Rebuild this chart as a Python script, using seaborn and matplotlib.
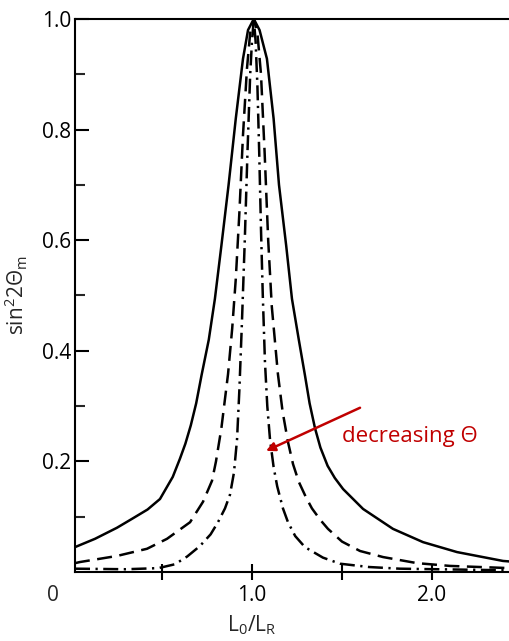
import matplotlib
matplotlib.use("Agg")
import matplotlib.pyplot as plt
import seaborn as sns
import pandas as pd

# ---- data ----
solid_x = [0.017, 0.128, 0.25, 0.333, 0.42, 0.489, 0.56, 0.60, 0.63, 0.66, 0.69, 0.72, 0.76, 0.794,
           0.83, 0.87, 0.91, 0.95, 0.978, 1.01, 1.042, 1.083, 1.12, 1.15, 1.19, 1.222, 1.26, 1.294,
           1.32, 1.35, 1.38, 1.42, 1.46, 1.506, 1.617, 1.783, 1.95, 2.139, 2.394, 2.433]
solid_y = [0.045, 0.060, 0.080, 0.096, 0.113, 0.132, 0.172, 0.205, 0.232, 0.265, 0.305, 0.356, 0.420,
           0.494, 0.590, 0.700, 0.820, 0.928, 0.980, 1.0, 0.980, 0.928, 0.820, 0.700, 0.590, 0.494,
           0.420, 0.356, 0.305, 0.260, 0.225, 0.192, 0.170, 0.150, 0.114, 0.078, 0.054, 0.036, 0.020,
           0.019]

dashed_x = [0.017, 0.044, 0.25, 0.417, 0.528, 0.656, 0.728, 0.778, 0.80, 0.83, 0.867, 0.89, 0.91,
            0.93, 0.95, 0.972, 0.99, 1.01, 1.03, 1.05, 1.07, 1.09, 1.11, 1.144, 1.17, 1.20, 1.228,
            1.26, 1.30, 1.333, 1.38, 1.422, 1.50, 1.60, 1.728, 1.917, 2.10, 2.433]
dashed_y = [0.016, 0.018, 0.029, 0.042, 0.060, 0.090, 0.127, 0.165, 0.200, 0.260, 0.358, 0.440, 0.530,
            0.650, 0.790, 0.910, 0.975, 1.0, 0.975, 0.900, 0.760, 0.600, 0.480, 0.358, 0.290, 0.235,
            0.195, 0.163, 0.135, 0.115, 0.094, 0.078, 0.055, 0.038, 0.027, 0.016, 0.011, 0.007]

dashdot_x = [0.017, 0.30, 0.48, 0.572, 0.64, 0.711, 0.77, 0.811, 0.85, 0.878, 0.90, 0.917, 0.93,
             0.944, 0.96, 0.975, 0.99, 1.0, 1.01, 1.02, 1.03, 1.04, 1.05, 1.06, 1.072, 1.085, 1.10,
             1.12, 1.14, 1.172, 1.20, 1.24, 1.294, 1.394, 1.489, 1.65, 1.82, 2.433]
dashdot_y = [0.006, 0.005, 0.007, 0.014, 0.028, 0.047, 0.068, 0.090, 0.115, 0.140, 0.180, 0.240, 0.330,
             0.450, 0.600, 0.760, 0.900, 0.960, 1.0, 0.960, 0.880, 0.760, 0.620, 0.500, 0.380, 0.300,
             0.240, 0.190, 0.155, 0.115, 0.090, 0.065, 0.045, 0.026, 0.015, 0.009, 0.006, 0.003]

x_ticks = [0.5, 1.0, 1.5, 2.0]
x_ticklabels = ["", "1.0", "", "2.0"]
y_ticks = [0.2, 0.4, 0.6, 0.8, 1.0]
y_ticklabels = ["0.2", "0.4", "0.6", "0.8", "1.0"]
y_minor = [0.1, 0.3, 0.5, 0.7, 0.9]

sns.set_style("ticks")
plt.rcParams["font.family"] = ["Open Sans", "DejaVu Sans"]
plt.rcParams["mathtext.default"] = "regular"

W, H = 510, 641
fig = plt.figure(figsize=(W / 100, H / 100), dpi=100)
ax = fig.add_axes([75 / W, 1 - 572 / H, (W - 75) / W, (572 - 19) / H])

red = "#C00000"
lw = 1.8
for xs, ys, ls in [(solid_x, solid_y, "-"),
                   (dashed_x, dashed_y, (0, (6, 3))),
                   (dashdot_x, dashdot_y, (0, (6, 2.2, 0.9, 2.2)))]:
    df = pd.DataFrame({"x": xs, "y": ys})
    sns.lineplot(data=df, x="x", y="y", sort=False, color="black", lw=lw,
                 linestyle=ls, ax=ax, zorder=3)

ax.set_xlim(0.017, 2.433)
ax.set_ylim(0, 1.0)

for s in ["left", "bottom", "top"]:
    ax.spines[s].set_linewidth(1.5)
    ax.spines[s].set_color("black")
ax.spines["right"].set_visible(False)

ax.set_xticks(x_ticks)
ax.set_xticklabels(x_ticklabels)
ax.set_yticks(y_ticks)
ax.set_yticklabels(y_ticklabels)
ax.set_yticks(y_minor, minor=True)
ax.tick_params(axis="y", which="major", direction="in", length=10, width=1.5, pad=3,
               labelsize=15, colors="black")
ax.tick_params(axis="y", which="minor", direction="in", length=7, width=1.5)
ax.tick_params(axis="x", which="major", direction="inout", length=11, width=1.5, pad=4,
               labelsize=15, colors="black")

# origin label
ax.annotate("0", xy=(-0.105, 0), xycoords=("data", "axes fraction"),
            xytext=(0, -9.5), textcoords="offset points", ha="center", va="top",
            fontsize=15, annotation_clip=False)

ax.set_xlabel("L$_0$/L$_R$", fontsize=15, labelpad=2)
ax.xaxis.set_label_coords((1.0 - 0.017) / (2.433 - 0.017), -0.075)
ax.set_ylabel("sin$^2$2Θ$_m$", fontsize=15, labelpad=8)

ax.annotate("", xy=(1.078, 0.219), xytext=(1.60, 0.297),
            arrowprops=dict(arrowstyle="-|>", color=red, lw=1.8, mutation_scale=13,
                            shrinkA=0, shrinkB=0), zorder=4)
ax.text(1.5, 0.245, "decreasing Θ", color=red, fontsize=16, ha="left", va="center")

fig.savefig("out.png", dpi=100)
